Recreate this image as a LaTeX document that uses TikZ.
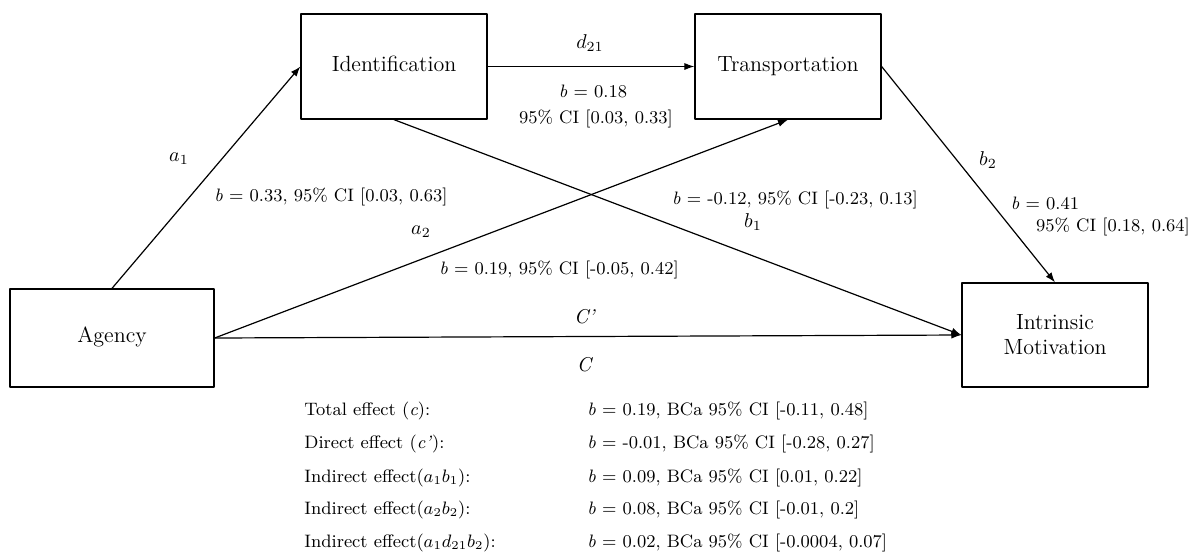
\documentclass[tikz,border=0pt]{standalone}
\usepackage{amsmath}
\usepackage{tikz}
\usetikzlibrary{arrows.meta}
\tikzset{
  every picture/.style={line join=round, line cap=round, >={Latex[length=5pt,width=3.6pt]}},
  var/.style={draw, line width=0.65pt, minimum width=93pt, minimum height=52.5pt, align=center, inner sep=2pt, font=\fontsize{11}{12.5}\selectfont},
  oneline/.style={text height=1.6ex, text depth=0.5ex},
  link/.style={->, line width=0.6pt},
  coef/.style={font=\small, inner sep=1pt},
  sym/.style={font=\normalsize, inner sep=1pt},
}

\begin{document}
\begin{tikzpicture}[x=0.5pt,y=-0.5pt]
\useasboundingbox (0,0) rectangle (1199,553);
\node[var,oneline] (iden) at (394,66.5) {Identification};
\node[var,oneline] (trans) at (788,66.5) {Transportation};
\node[var,oneline,minimum width=102pt,minimum height=49pt] (agen) at (112,338) {Agency};
\node[var,minimum height=52pt] (intr) at (1055,335) {Intrinsic\\Motivation};
\draw[link] (agen.north) -- (iden.west);
\draw[link] (iden.east) -- (trans.west);
\draw[link] (agen.east) -- (trans.south);
\draw[link] (iden.south) -- (intr.west);
\draw[link] (trans.east) -- (intr.north);
\draw[link] (agen.east) -- (intr.west);
\node[sym] (d21) at (590,43) {$d_{21}$};
\node[coef] (d21b) at (593,91) {\textit{b} = 0.18};
\node[coef] (d21ci) at (596,119) {95\% CI [0.03, 0.33]};
\node[sym] (a1) at (179,159) {$a_1$};
\node[coef] (a1b) at (331,197) {\textit{b} = 0.33, 95\% CI [0.03, 0.63]};
\node[sym] (a2) at (421,232) {$a_2$};
\node[coef] (a2b) at (559,270) {\textit{b} = 0.19, 95\% CI [-0.05, 0.42]};
\node[coef] (b1b) at (795,200) {\textit{b} = -0.12, 95\% CI [-0.23, 0.13]};
\node[sym] (b1) at (753,222) {$b_1$};
\node[sym] (b2) at (988,160) {$b_2$};
\node[coef] (b2b) at (1045,203) {\textit{b} = 0.41};
\node[coef] (b2ci) at (1113,227) {95\% CI [0.18, 0.64]};
\node[sym] (cpr) at (585,317) {\textit{C’}};
\node[sym] (ctot) at (585,365) {\textit{C}};
\node[coef,anchor=west] (tot) at (302,411) {Total effect (\textit{c}):};
\node[coef,anchor=west] (dir) at (302,444) {Direct effect (\textit{c’}):};
\node[coef,anchor=west] (ind1) at (302,478) {Indirect effect($a_1b_1$):};
\node[coef,anchor=west] (ind2) at (302,510) {Indirect effect($a_2b_2$):};
\node[coef,anchor=west] (ind3) at (302,543) {Indirect effect($a_1d_{21}b_2$):};
\node[coef,anchor=west] (totv) at (585,411) {\textit{b} = 0.19, BCa 95\% CI [-0.11, 0.48]};
\node[coef,anchor=west] (dirv) at (585,444) {\textit{b} = -0.01, BCa 95\% CI [-0.28, 0.27]};
\node[coef,anchor=west] (ind1v) at (585,478) {\textit{b} = 0.09, BCa 95\% CI [0.01, 0.22]};
\node[coef,anchor=west] (ind2v) at (585,510) {\textit{b} = 0.08, BCa 95\% CI [-0.01, 0.2]};
\node[coef,anchor=west] (ind3v) at (585,543) {\textit{b} = 0.02, BCa 95\% CI [-0.0004, 0.07]};
\end{tikzpicture}
\end{document}
